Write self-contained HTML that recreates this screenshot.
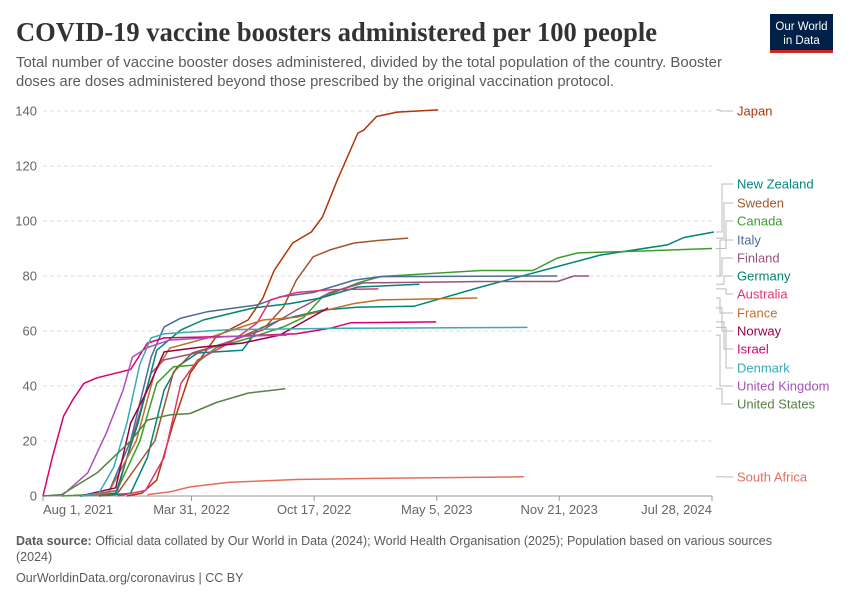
<!DOCTYPE html>
<html><head><meta charset="utf-8"><style>
body{margin:0;background:#fff;width:850px;height:600px;overflow:hidden;font-family:"Liberation Sans",sans-serif}
svg{display:block}
</style></head><body>
<svg id="chart" width="850" height="600" viewBox="0 0 850 600">
<text x="16" y="41" font-family="Liberation Serif,serif" font-weight="bold" font-size="27" fill="#333" textLength="641" lengthAdjust="spacingAndGlyphs">COVID-19 vaccine boosters administered per 100 people</text>
<text x="16" y="67" font-size="14.5" fill="#5b5b5b" textLength="706" lengthAdjust="spacingAndGlyphs">Total number of vaccine booster doses administered, divided by the total population of the country. Booster</text>
<text x="16" y="86" font-size="14.5" fill="#5b5b5b" textLength="598" lengthAdjust="spacingAndGlyphs">doses are doses administered beyond those prescribed by the original vaccination protocol.</text>
<g>
<rect x="770" y="14" width="63" height="36" fill="#002147"/>
<rect x="770" y="50" width="63" height="3" fill="#ce261e"/>
<text x="801.5" y="30" font-size="11.5" fill="#fff" text-anchor="middle">Our World</text>
<text x="801.5" y="44" font-size="11.5" fill="#fff" text-anchor="middle">in Data</text>
</g>
<g id="grid"></g><g id="axes"></g><g id="series"></g><g id="legend"></g>
<text x="16" y="545" font-size="12.5" fill="#5b5b5b"><tspan font-weight="bold">Data source:</tspan> Official data collated by Our World in Data (2024); World Health Organisation (2025); Population based on various sources</text>
<text x="16" y="561" font-size="12.5" fill="#5b5b5b">(2024)</text>
<text x="16" y="582" font-size="12.5" fill="#5b5b5b">OurWorldinData.org/coronavirus | CC BY</text>
</svg>
<script>
// x values: months since Aug 1, 2021; y: boosters per 100 people
const countries=["Japan","New Zealand","Sweden","Canada","Italy","Finland","Germany","Australia","France","Norway","Israel","Denmark","United Kingdom","United States","South Africa"];
const colors=["#b13507","#00847e","#a2562c","#3c9e2c","#4c6a9c","#9a5281","#00866e","#e1366b","#c0702b","#970046","#d6006e","#38aaba","#a652ba","#578145","#e56e5a"];
const labelY=[111,184,203,221,240,258,276,294,313,331,349,368,386,404,477];
const japan=[[4.5,0],[5.3,1],[6.1,5.8],[7,26.5],[7.9,44.7],[9.3,58],[11,64],[11.8,72],[12.4,82],[13.4,92],[14.4,96],[15,101.5],[15.8,115],[16.9,132],[17.2,133],[17.9,138],[19,139.6],[21.2,140.4]];
const newZealand=[[3,0],[4.7,1],[5.6,14],[6.5,38.5],[7.2,47],[8.3,52],[10.7,53],[11.5,60.4],[12.7,64],[15,67.6],[16.9,68.7],[19.9,69],[23.5,76],[29.9,87.6],[33.5,91.3],[34.4,94],[36,96]];
const sweden=[[3,0],[4,1],[6,20],[7,45],[8,52],[10,56],[12,62],[12.9,68.7],[13.6,78.5],[14.5,87],[15.4,89.5],[16.7,92],[18.1,93],[19.6,93.8]];
const canada=[[1,0],[3.9,1],[5.2,20],[6.1,41],[7,47],[8.1,47.6],[9.3,54],[11.1,57.5],[12.9,61.5],[14,65],[15,72.4],[16.9,77.5],[18.1,79.8],[23.5,82],[26.3,82],[27.6,86.5],[28.7,88.4],[31.7,89],[35.9,90]];
const italy=[[2,0],[3.5,1],[4.7,20],[5.8,50.5],[6.5,61.5],[7.4,64.7],[8.8,67],[11.5,69.5],[12.7,72.4],[14.5,74],[16.7,78.5],[18.1,79.8],[27.6,80]];
const finland=[[2,0],[4,2],[5.8,44.7],[6.5,49.5],[8.2,52],[11.8,60.4],[13.6,67.6],[15.4,74],[17.2,77.5],[23.5,78],[27.6,78],[28.5,80],[29.3,80]];
const germany=[[2,0],[3.9,1],[5.1,26.5],[6.1,53],[7.4,60.4],[8.6,64],[11.3,68.4],[13.3,70],[14.9,72],[16.9,76],[20.2,77]];
const australia=[[4,0],[5.5,2],[6.5,14],[7.4,41],[8.3,49.5],[10,55.6],[11.5,63],[12.2,71.3],[13.6,74],[15.4,75],[18,75.3]];
const france=[[2,0],[3.5,1],[5,20],[6,45],[6.8,53.8],[9.1,58],[11.8,64],[13.6,65],[16.7,70],[18.1,71.3],[23.3,72]];
const norway=[[2,0],[3.9,3],[4.7,26.5],[5.6,38.5],[6.5,52.4],[8.3,54],[10.7,55.6],[12.7,58.5],[15.3,68.4]];
const israel=[[0,0],[0.5,14],[1.1,29],[1.6,35],[2.2,41],[2.9,43],[4.7,46],[5.6,55.6],[6.5,57.5],[10,58],[13.6,59],[15.4,61],[16.5,63],[21.1,63.3]];
const denmark=[[2,0],[3,1],[3.8,10.5],[4.5,26.5],[5.2,48],[5.8,57.5],[6.5,59],[10,60.5],[16,61],[26,61.3]];
const uk=[[1,0],[2.4,8.4],[3.4,23],[4.3,38.5],[4.8,50.5],[5.6,54],[6.8,56.7],[10,58],[13.1,58.5]];
const us=[[0,0],[1,0.5],[2.9,8.4],[4.7,20],[5.6,27.6],[6.8,29.5],[7.9,30],[9.3,34],[11,37.4],[13,39]];
const southAfrica=[[5.6,0.5],[6.8,1.5],[7.9,3.3],[10,5],[13.6,6],[19,6.5],[25.8,7]];
const seriesData=[japan,newZealand,sweden,canada,italy,finland,germany,australia,france,norway,israel,denmark,uk,us,southAfrica];
const yTicks=[0,20,40,60,80,100,120,140];
const xTickLabels=["Aug 1, 2021","Mar 31, 2022","Oct 17, 2022","May 5, 2023","Nov 21, 2023","Jul 28, 2024"];
const xTickMonths=[0,7.97,14.55,21.13,27.7,35.9];

const X0=43,X1=712,MMAX=35.9;
const xs=m=>X0+(X1-X0)*m/MMAX;
const ys=v=>496-v*2.75;
const NS="http://www.w3.org/2000/svg";
function mk(tag,attrs,parent){const e=document.createElementNS(NS,tag);for(const k in attrs)e.setAttribute(k,attrs[k]);parent.appendChild(e);return e;}
const grid=document.getElementById('grid'),axes=document.getElementById('axes'),ser=document.getElementById('series'),leg=document.getElementById('legend');
yTicks.forEach(v=>{
  if(v>0){const l=mk('line',{x1:X0,x2:X1,y1:ys(v),y2:ys(v),stroke:'#ddd','stroke-dasharray':'4,3'},grid);
  
  }
  const t=mk('text',{x:37,y:ys(v)+4.5,'text-anchor':'end','font-size':'13',fill:'#666'},axes);t.textContent=v;
  
  
});
const ax=mk('line',{x1:X0,x2:X1,y1:496,y2:496,stroke:'#999'},axes);


xTickLabels.forEach((lab,i)=>{
  const x=xs(xTickMonths[i]);
  mk('line',{x1:x,x2:x,y1:496,y2:501,stroke:'#999'},axes);
  const t=mk('text',{x:x,y:514,'text-anchor':i==0?'start':(i==xTickLabels.length-1?'end':'middle'),'font-size':'13',fill:'#666'},axes);
  t.textContent=lab;
  
  
});
seriesData.forEach((d,i)=>{
  const p=mk('path',{d:d.map((pt,j)=>(j?'L':'M')+xs(pt[0]).toFixed(1)+','+ys(pt[1]).toFixed(1)).join(''),fill:'none',stroke:colors[i],'stroke-width':'1.5','stroke-linejoin':'round'},ser);
  
  
  const last=d[d.length-1][1];const yE=ys(last),yL=labelY[i];
  const bx=720+(i%4)*2;
  const c=mk('path',{d:`M716,${yE.toFixed(1)}H${bx}V${yL}H733`,fill:'none',stroke:'#bbb','stroke-width':'1'},leg);
  
  
  const t=mk('text',{x:737,y:yL+4.5,'font-size':'13',fill:colors[i]},leg);
  t.textContent=countries[i];
  
  
});
</script>
</body></html>
